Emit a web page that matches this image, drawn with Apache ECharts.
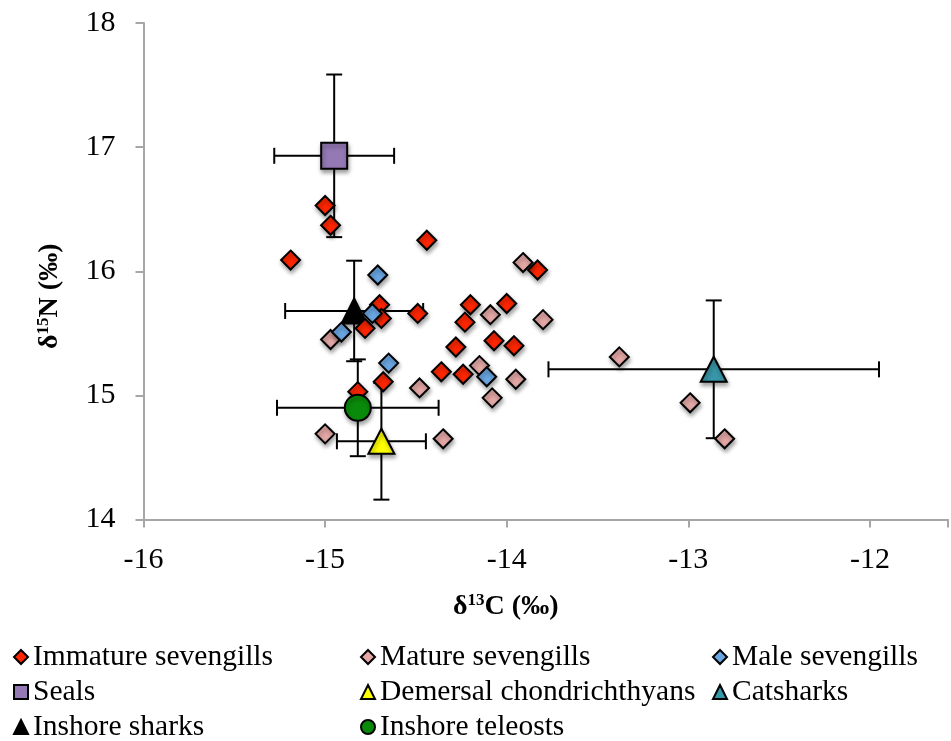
<!DOCTYPE html>
<html>
<head>
<meta charset="utf-8">
<script src="https://cdn.jsdelivr.net/npm/echarts@6/dist/echarts.min.js"></script>
<style>html,body{margin:0;padding:0;background:#fff}#c{width:951px;height:741px}</style>
</head>
<body>
<div id="c"></div>
<script>
// δ13C (x) and δ15N (y) values
const immatureC = [-15.00, -14.97, -15.19, -14.44, -13.83, -14.70, -14.69, -14.78, -14.49, -14.20, -14.00, -14.23, -14.28, -14.07, -13.96, -14.36, -14.24, -14.68, -14.82];
const immatureN = [16.53, 16.37, 16.09, 16.25, 16.01, 15.73, 15.62, 15.54, 15.66, 15.73, 15.74, 15.59, 15.39, 15.44, 15.40, 15.19, 15.17, 15.11, 15.03];
const matureC = [-13.91, -14.09, -13.80, -14.97, -14.15, -13.95, -14.08, -14.48, -15.00, -14.35, -13.38, -12.99, -12.80];
const matureN = [16.07, 15.65, 15.61, 15.45, 15.24, 15.13, 14.98, 15.06, 14.69, 14.65, 15.31, 14.94, 14.65];
const maleC = [-14.71, -14.74, -14.91, -14.65, -14.11];
const maleN = [15.97, 15.66, 15.51, 15.26, 15.15];

const groupNames = ['Seals', 'Demersal chondrichthyans', 'Catsharks', 'Inshore sharks', 'Inshore teleosts'];
const groupC = [-14.95, -14.69, -12.86, -14.84, -14.82];
const groupN = [16.93, 14.63, 15.21, 15.68, 14.90];
const groupCErr = [0.33, 0.245, 0.91, 0.38, 0.445];
const groupNErr = [0.655, 0.47, 0.555, 0.405, 0.39];

const xTicks = [-16, -15, -14, -13, -12];
const yTicks = [14, 15, 16, 17, 18];

// legend reading order (three columns, row by row)
const legendOrder = [
  'Immature sevengills', 'Mature sevengills', 'Male sevengills',
  'Seals', 'Demersal chondrichthyans', 'Catsharks',
  'Inshore sharks', 'Inshore teleosts'
];

const FONT = '"Liberation Serif", "DejaVu Serif", serif';
const shadow = {shadowColor: 'rgba(0,0,0,0.35)', shadowBlur: 4, shadowOffsetX: 1, shadowOffsetY: 3};

function pairs(xs, ys) { return xs.map((v, i) => [v, ys[i]]); }

const groupStyle = {
  'Seals': {symbol: 'rect', size: 26, color: '#9479B4'},
  'Demersal chondrichthyans': {symbol: 'triangle', size: [26, 25], color: '#FFFF00'},
  'Catsharks': {symbol: 'triangle', size: [26, 25], color: '#3796A8'},
  'Inshore sharks': {symbol: 'triangle', size: [25, 25], color: '#000000'},
  'Inshore teleosts': {symbol: 'circle', size: 26, color: '#0A8A0A'}
};

function groupSeries(i) {
  const name = groupNames[i];
  const s = groupStyle[name];
  return {
    name: name, type: 'scatter', symbol: s.symbol, symbolSize: s.size,
    data: [[groupC[i], groupN[i]]],
    itemStyle: Object.assign({color: s.color, borderColor: '#000', borderWidth: 2, opacity: 1}, shadow),
    z: 3
  };
}

function pointSeries(name, xs, ys, color) {
  return {
    name: name, type: 'scatter', symbol: 'diamond', symbolSize: 19,
    data: pairs(xs, ys),
    itemStyle: Object.assign({color: color, borderColor: '#000', borderWidth: 2, opacity: 1}, shadow),
    z: 3
  };
}

const errData = groupNames.map((n, i) => [groupC[i], groupN[i], groupCErr[i], groupNErr[i]]);

const errSeries = {
  name: 'errors', type: 'custom', silent: true, z: 2, clip: false,
  encode: {x: 0, y: 1},
  data: errData,
  renderItem: function (params, api) {
    const x = api.value(0), y = api.value(1), ex = api.value(2), ey = api.value(3);
    const l = api.coord([x - ex, y]), r = api.coord([x + ex, y]);
    const t = api.coord([x, y + ey]), b = api.coord([x, y - ey]);
    const cap = 8;
    const st = {stroke: '#000', lineWidth: 2};
    const ln = (x1, y1, x2, y2) => ({type: 'line', shape: {x1, y1, x2, y2}, style: st});
    return {type: 'group', children: [
      ln(l[0], l[1], r[0], r[1]),
      ln(l[0], l[1] - cap, l[0], l[1] + cap),
      ln(r[0], r[1] - cap, r[0], r[1] + cap),
      ln(t[0], t[1], b[0], b[1]),
      ln(t[0] - cap, t[1], t[0] + cap, t[1]),
      ln(b[0] - cap, b[1], b[0] + cap, b[1])
    ]};
  }
};

const colLeft = [13, 360, 712];
const rowTop = [642, 677, 712];
const legends = legendOrder.map((name, i) => ({
  orient: 'horizontal', itemWidth: 14, itemHeight: 14, padding: 0,
  textStyle: {fontFamily: FONT, fontSize: 29.5, color: '#000', lineHeight: 30},
  left: colLeft[i % 3], top: rowTop[Math.floor(i / 3)],
  selectedMode: false, data: [name]
}));

const option = {
  animation: false,
  backgroundColor: '#fff',
  grid: {left: 143.5, right: 0, top: 23, bottom: 221.5, containLabel: false},
  xAxis: {
    type: 'value', min: -16, max: -11.57, interval: 1,
    name: '{d|δ}{s|13}{d|C (‰)}', nameLocation: 'middle', nameGap: 73,
    nameTextStyle: {
      padding: [0, 80, 0, 0],
      rich: {
        d: {fontFamily: FONT, fontSize: 28, fontWeight: 'bold', color: '#000'},
        s: {fontFamily: FONT, fontSize: 17, fontWeight: 'bold', color: '#000', verticalAlign: 'top', padding: [0, 0, 8, 0]}
      }
    },
    axisLine: {lineStyle: {color: '#A6A6A6', width: 2}},
    axisTick: {inside: false, length: 8, lineStyle: {color: '#A6A6A6', width: 2}},
    axisLabel: {
      fontFamily: FONT, fontSize: 30, color: '#000', margin: 26,
      formatter: function (v) { return xTicks.indexOf(v) >= 0 ? String(v) : ''; }
    },
    splitLine: {show: false}
  },
  yAxis: {
    type: 'value', min: 14, max: 18, interval: 1,
    name: '{d|δ}{s|15}{d|N (‰)}', nameLocation: 'middle', nameGap: 80,
    nameTextStyle: {
      padding: [0, 50, 0, 0],
      rich: {
        d: {fontFamily: FONT, fontSize: 28, fontWeight: 'bold', color: '#000'},
        s: {fontFamily: FONT, fontSize: 17, fontWeight: 'bold', color: '#000', verticalAlign: 'top', padding: [0, 0, 8, 0]}
      }
    },
    axisLine: {lineStyle: {color: '#A6A6A6', width: 2}},
    axisTick: {inside: false, length: 8, lineStyle: {color: '#A6A6A6', width: 2}},
    axisLabel: {
      fontFamily: FONT, fontSize: 30, color: '#000', margin: 28,
      formatter: function (v) { return yTicks.indexOf(v) >= 0 ? String(v) : ''; }
    },
    splitLine: {show: false}
  },
  legend: legends,
  series: [
    errSeries,
    groupSeries(0), groupSeries(1), groupSeries(2), groupSeries(3),
    pointSeries('Immature sevengills', immatureC, immatureN, '#FF2600'),
    pointSeries('Mature sevengills', matureC, matureN, '#E4A8A6'),
    pointSeries('Male sevengills', maleC, maleN, '#6AA6E2'),
    groupSeries(4)
  ]
};

const chart = echarts.init(document.getElementById('c'), null, {renderer: 'canvas'});
chart.setOption(option);
</script>
</body>
</html>
